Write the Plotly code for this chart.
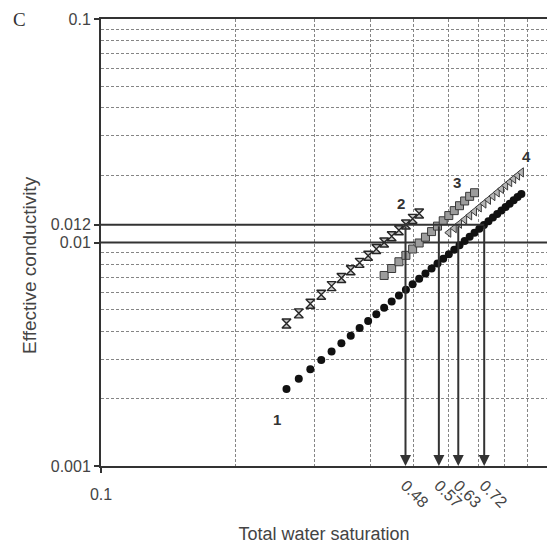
import math
import plotly.graph_objects as go

# Total water saturation / effective conductivity for the four curves
s1_x = [0.260, 0.277, 0.294, 0.311, 0.328, 0.345, 0.362, 0.379, 0.396, 0.413,
        0.430, 0.447, 0.464, 0.481, 0.498, 0.515, 0.532, 0.549, 0.566, 0.583,
        0.600, 0.617, 0.634, 0.651, 0.668, 0.685, 0.702, 0.719, 0.736, 0.753,
        0.770, 0.787, 0.804, 0.821, 0.838, 0.855, 0.872]
s1_y = [0.00221, 0.00246, 0.00271, 0.00298, 0.00325, 0.00354, 0.00383, 0.00414,
        0.00445, 0.00477, 0.00510, 0.00544, 0.00579, 0.00614, 0.00651, 0.00688,
        0.00726, 0.00765, 0.00805, 0.00845, 0.00887, 0.00929, 0.00972, 0.01016,
        0.01060, 0.01105, 0.01151, 0.01197, 0.01245, 0.01293, 0.01342, 0.01391,
        0.01442, 0.01492, 0.01544, 0.01596, 0.01649]

s2_x = [0.260, 0.277, 0.294, 0.311, 0.328, 0.345, 0.362, 0.379, 0.396, 0.413,
        0.430, 0.447, 0.464, 0.481, 0.498, 0.515]
s2_y = [0.00434, 0.00482, 0.00532, 0.00584, 0.00638, 0.00694, 0.00751, 0.00811,
        0.00872, 0.00935, 0.01000, 0.01066, 0.01134, 0.01204, 0.01276, 0.01349]

s3_x = [0.430, 0.447, 0.464, 0.481, 0.498, 0.515, 0.532, 0.549, 0.566, 0.583,
        0.600, 0.617, 0.634, 0.651, 0.668, 0.685]
s3_y = [0.00712, 0.00765, 0.00820, 0.00876, 0.00935, 0.00995, 0.01056, 0.01119,
        0.01184, 0.01251, 0.01320, 0.01389, 0.01461, 0.01534, 0.01609, 0.01670]

s4_x = [0.600, 0.617, 0.634, 0.651, 0.668, 0.685, 0.702, 0.719, 0.736, 0.753,
        0.770, 0.787, 0.804, 0.821, 0.838, 0.855, 0.872]
s4_y = [0.01107, 0.01159, 0.01213, 0.01267, 0.01323, 0.01379, 0.01436, 0.01494,
        0.01553, 0.01613, 0.01675, 0.01736, 0.01800, 0.01863, 0.01927, 0.01993,
        0.02059]

level_major = 0.01
level_read = 0.012
read_sat = [0.48, 0.57, 0.63, 0.72]
read_labels = ["0.48", "0.57", "0.63", "0.72"]

# curve number labels (saturation, conductivity)
curve_names = ["1", "2", "3", "4"]
curve_label_x = [0.248, 0.468, 0.627, 0.896]
curve_label_y = [0.00161, 0.0150, 0.0185, 0.0242]

x_minor = [0.2, 0.3, 0.4, 0.5, 0.6, 0.7, 0.8, 0.9]
y_minor = [0.002, 0.003, 0.004, 0.005, 0.006, 0.007, 0.008, 0.009,
           0.02, 0.03, 0.04, 0.05, 0.06, 0.07, 0.08, 0.09]

AX = "#333333"
GRID = "#858585"
TXT = "#444444"
FONT = "Liberation Sans, Arial, sans-serif"

fig = go.Figure()

# full-width decade line at 0.01
fig.add_trace(go.Scatter(x=[0.1, 1.0], y=[level_major, level_major], mode="lines",
                         line=dict(color=AX, width=2), showlegend=False,
                         hoverinfo="skip"))
# horizontal read-off line at 0.012 out to the largest saturation
fig.add_trace(go.Scatter(x=[0.1, max(read_sat)], y=[level_read, level_read],
                         mode="lines", line=dict(color=AX, width=2),
                         showlegend=False, hoverinfo="skip", xaxis="x2"))

fig.add_trace(go.Scatter(x=s2_x, y=s2_y, mode="markers", showlegend=False,
                         marker=dict(symbol="hourglass", size=9, color="#c4c4c4",
                                     line=dict(color="#262626", width=1.4))))
fig.add_trace(go.Scatter(x=s4_x, y=s4_y, mode="markers", showlegend=False,
                         marker=dict(symbol="triangle-left", size=8, color="#b5b5b5",
                                     line=dict(color="#3a3a3a", width=1))))
fig.add_trace(go.Scatter(x=s3_x, y=s3_y, mode="markers", showlegend=False,
                         marker=dict(symbol="square", size=8, color="#9c9c9c",
                                     line=dict(color="#3a3a3a", width=1))))
fig.add_trace(go.Scatter(x=s1_x, y=s1_y, mode="markers", showlegend=False,
                         marker=dict(symbol="circle", size=8, color="#111111",
                                     line=dict(width=0))))

annotations = []
# vertical arrows from the 0.012 line down to the saturation axis
for s in read_sat:
    annotations.append(dict(x=math.log10(s), y=-3, xref="x", yref="y",
                            ax=math.log10(s), ay=math.log10(level_read),
                            axref="x", ayref="y", text="", showarrow=True,
                            arrowhead=2, arrowsize=1.1, arrowwidth=2,
                            arrowcolor=AX, standoff=0, startstandoff=0))
for name, cx, cy in zip(curve_names, curve_label_x, curve_label_y):
    annotations.append(dict(x=math.log10(cx), y=math.log10(cy), xref="x", yref="y",
                            text="<b>%s</b>" % name, showarrow=False,
                            font=dict(family=FONT, size=15, color="#333333")))
# end-of-axis saturation label, running off the right edge
annotations.append(dict(x=1.0, y=0, xref="paper", yref="paper", xanchor="left",
                        yanchor="top", xshift=-4, yshift=-12, text="1",
                        textangle=45, showarrow=False,
                        font=dict(family=FONT, size=16, color=TXT)))
annotations.append(dict(x=-0.182, y=1.0, xref="paper", yref="paper", text="C",
                        showarrow=False, xanchor="center", yanchor="middle",
                        font=dict(family="Liberation Serif, Times New Roman, serif",
                                  size=19, color="#333333")))
# vertical axis title, set a little below the middle of the axis
annotations.append(dict(x=-0.159, y=0.45, xref="paper", yref="paper",
                        text="Effective conductivity", textangle=-90,
                        showarrow=False, xanchor="center", yanchor="middle",
                        font=dict(family=FONT, size=19, color=TXT)))

x_range = [-1, math.log10(0.995)]

fig.update_layout(
    width=547, height=544,
    margin=dict(l=101, r=0, t=19, b=78),
    paper_bgcolor="white", plot_bgcolor="white",
    showlegend=False,
    annotations=annotations,
    xaxis=dict(type="log", range=x_range, tickvals=[0.1], ticktext=["0.1"],
               automargin=False,
               ticks="outside", ticklen=5, tickwidth=1.5, tickcolor=AX,
               ticklabelstandoff=8,
               showline=True, linecolor=AX, linewidth=2, mirror=True,
               showgrid=False, zeroline=False,
               tickfont=dict(family=FONT, size=16, color=TXT),
               minor=dict(tickvals=x_minor, showgrid=True, gridcolor=GRID,
                          griddash="3px,2px", gridwidth=1, ticks=""),
               title=dict(text="Total water saturation", standoff=29,
                          font=dict(family=FONT, size=18, color=TXT))),
    xaxis2=dict(type="log", range=x_range, overlaying="x", side="bottom",
                automargin=False,
                tickvals=read_sat, ticktext=read_labels, tickangle=45,
                ticklabelstandoff=6,
                ticks="", showline=False, showgrid=False, zeroline=False,
                tickfont=dict(family=FONT, size=16, color=TXT)),
    yaxis=dict(type="log", range=[-3, -1], automargin=False,
               tickvals=[0.001, level_major, level_read, 0.1],
               ticktext=["0.001", "0.01", "0.012", "0.1"],
               ticks="outside", ticklen=5, tickwidth=1.5, tickcolor=AX,
               showline=True, linecolor=AX, linewidth=2, mirror=False,
               showgrid=False, zeroline=False,
               tickfont=dict(family=FONT, size=16, color=TXT),
               minor=dict(tickvals=y_minor, showgrid=True, gridcolor=GRID,
                          griddash="3px,2px", gridwidth=1, ticks="")),
)

fig.write_html("out.html")
